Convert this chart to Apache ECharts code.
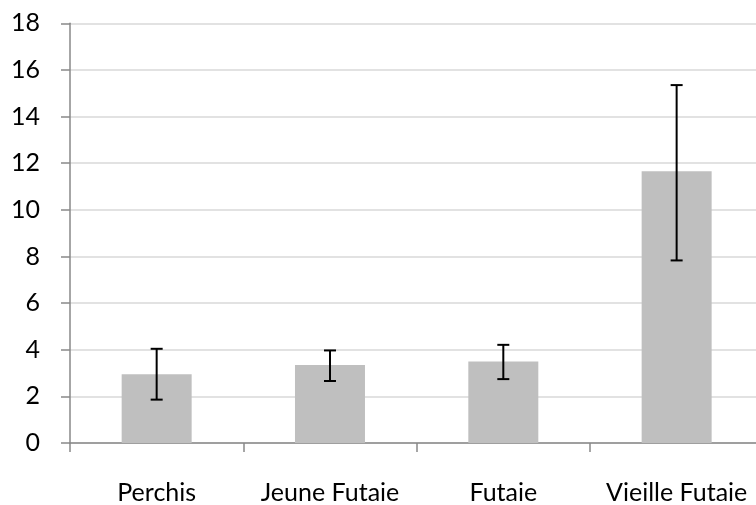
<!DOCTYPE html>
<html><head><meta charset="utf-8">
<script src="https://cdn.jsdelivr.net/npm/echarts@6/dist/echarts.min.js"></script>
<style>html,body{margin:0;padding:0;overflow:hidden;background:#fff;width:756px;height:505px}#c{width:770px;height:505px}</style>
</head><body><div id="c"></div>
<script>
var categories = ['Perchis', 'Jeune Futaie', 'Futaie', 'Vieille Futaie'];
var values = [2.95, 3.34, 3.50, 11.65];
var errLow = [1.86, 2.66, 2.74, 7.83];
var errHigh = [4.04, 3.97, 4.21, 15.35];
var yTicks = [0, 2, 4, 6, 8, 10, 12, 14, 16, 18];

var chart = echarts.init(document.getElementById('c'), null, {renderer: 'canvas'});
var font = 'Lato';
chart.setOption({
  animation: false,
  grid: {left: 70, right: 6.7, top: 23.3, bottom: 61.7},
  xAxis: {
    type: 'category', data: categories,
    axisLine: {lineStyle: {color: '#898989', width: 1.5}},
    axisTick: {show: true, interval: 0, length: 9, alignWithLabel: false, lineStyle: {color: '#898989', width: 1.5}},
    axisLabel: {interval: 0, color: '#000', fontSize: 25, fontFamily: font, margin: 37, hideOverlap: false}
  },
  yAxis: {
    type: 'value', min: yTicks[0], max: yTicks[yTicks.length - 1], interval: 2,
    axisLine: {show: true, lineStyle: {color: '#898989', width: 1.5}},
    axisTick: {show: true, length: 9, lineStyle: {color: '#898989', width: 1.5}},
    axisLabel: {color: '#000', fontSize: 25, fontFamily: font, margin: 30},
    splitLine: {lineStyle: {color: '#d9d9d9', width: 1.5}}
  },
  series: [
    {type: 'bar', data: values, barWidth: 70, itemStyle: {color: '#bfbfbf'}, z: 2},
    {
      type: 'custom', z: 5,
      data: categories.map(function (c, i) { return [i, errLow[i], errHigh[i]]; }),
      renderItem: function (params, api) {
        var lo = api.coord([api.value(0), api.value(1)]);
        var hi = api.coord([api.value(0), api.value(2)]);
        var w = 6;
        var st = {stroke: '#000', lineWidth: 2};
        return {type: 'group', children: [
          {type: 'line', shape: {x1: hi[0], y1: hi[1], x2: lo[0], y2: lo[1]}, style: st},
          {type: 'line', shape: {x1: hi[0] - w, y1: hi[1], x2: hi[0] + w, y2: hi[1]}, style: st},
          {type: 'line', shape: {x1: lo[0] - w, y1: lo[1], x2: lo[0] + w, y2: lo[1]}, style: st}
        ]};
      }
    }
  ]
});
</script></body></html>
